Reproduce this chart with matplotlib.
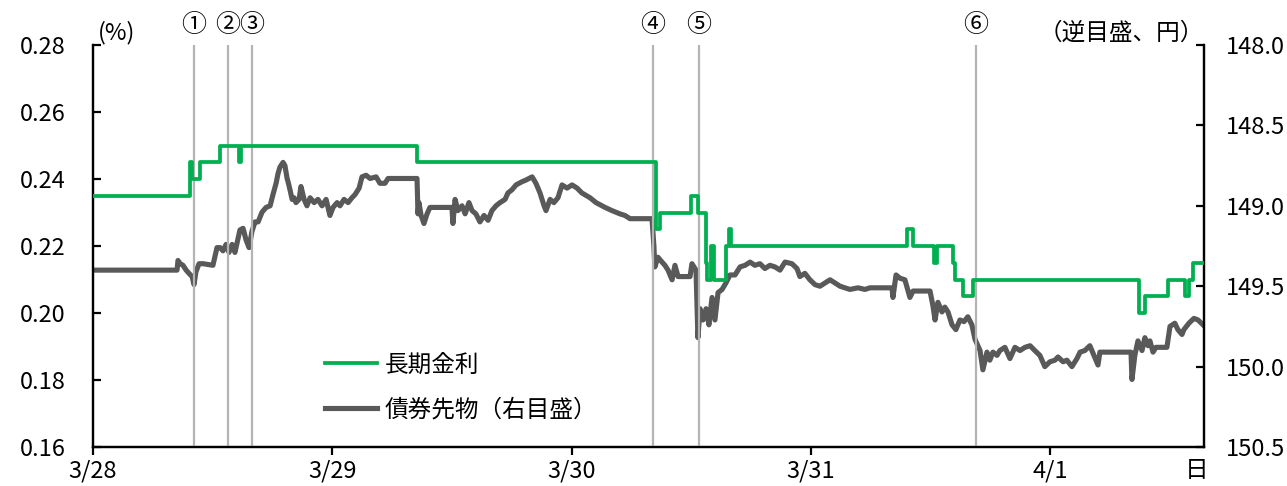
import matplotlib
matplotlib.use("Agg")
import matplotlib.pyplot as plt

plt.rcParams["font.family"] = ["Noto Sans CJK JP", "DejaVu Sans"]

# x = days since 3/28 open (trading-time index)
day_labels = ["3/28", "3/29", "3/30", "3/31", "4/1"]

# 長期金利 (%), step changes
jgb_t = [0, 0.405, 0.414, 0.447, 0.531, 0.610, 0.618, 1.354,
         2.353, 2.370, 2.499, 2.528, 2.562, 2.566, 2.583, 2.595,
         2.645, 2.658, 2.666, 3.402, 3.427, 3.514, 3.527, 3.594,
         3.602, 3.636, 3.677, 4.371, 4.396, 4.492, 4.563, 4.580,
         4.597, 4.643]
jgb_yield = [0.235, 0.245, 0.240, 0.245, 0.250, 0.245, 0.250, 0.245,
             0.225, 0.230, 0.235, 0.230, 0.215, 0.210, 0.220, 0.210,
             0.220, 0.225, 0.220, 0.225, 0.220, 0.215, 0.220, 0.215,
             0.210, 0.205, 0.210, 0.200, 0.205, 0.210, 0.205, 0.210,
             0.215, 0.215]

# 債券先物 (円)
fut_t = [0, 0.351, 0.355, 0.364, 0.376, 0.389, 0.401, 0.414, 0.422, 0.430,
         0.443, 0.460, 0.501, 0.518, 0.531, 0.543, 0.556, 0.568, 0.581, 0.593,
         0.614, 0.627, 0.639, 0.652, 0.664, 0.677, 0.690, 0.706, 0.723, 0.740,
         0.752, 0.765, 0.773, 0.781, 0.794, 0.802, 0.811, 0.815, 0.823, 0.832,
         0.840, 0.848, 0.861, 0.869, 0.882, 0.894, 0.907, 0.924, 0.940, 0.957,
         0.974, 0.990, 1.003, 1.020, 1.032, 1.049, 1.066, 1.082, 1.095, 1.112,
         1.124, 1.141, 1.158, 1.183, 1.199, 1.220, 1.233, 1.262, 1.354, 1.358,
         1.362, 1.371, 1.383, 1.396, 1.408, 1.433, 1.500, 1.504, 1.513, 1.525,
         1.542, 1.555, 1.571, 1.584, 1.600, 1.617, 1.634, 1.651, 1.667, 1.684,
         1.701, 1.722, 1.734, 1.751, 1.768, 1.793, 1.809, 1.835, 1.851, 1.868,
         1.885, 1.893, 1.910, 1.926, 1.943, 1.960, 1.981, 2.002, 2.023, 2.043,
         2.077, 2.102, 2.140, 2.169, 2.202, 2.223, 2.244, 2.336, 2.344, 2.348,
         2.361, 2.378, 2.390, 2.403, 2.420, 2.432, 2.445, 2.495, 2.503, 2.520,
         2.528, 2.537, 2.549, 2.562, 2.574, 2.587, 2.599, 2.612, 2.629, 2.645,
         2.662, 2.683, 2.704, 2.725, 2.746, 2.766, 2.787, 2.808, 2.829, 2.850,
         2.871, 2.892, 2.921, 2.942, 2.954, 2.975, 2.996, 3.017, 3.038, 3.059,
         3.080, 3.101, 3.122, 3.142, 3.163, 3.197, 3.226, 3.247, 3.339, 3.343,
         3.356, 3.372, 3.393, 3.414, 3.427, 3.498, 3.510, 3.519, 3.531, 3.548,
         3.560, 3.573, 3.590, 3.606, 3.623, 3.640, 3.656, 3.673, 3.686, 3.707,
         3.719, 3.736, 3.748, 3.761, 3.778, 3.790, 3.811, 3.832, 3.853, 3.874,
         3.895, 3.916, 3.936, 3.957, 3.978, 3.999, 4.020, 4.033, 4.054, 4.070,
         4.091, 4.112, 4.125, 4.145, 4.166, 4.200, 4.208, 4.338, 4.342, 4.354,
         4.367, 4.384, 4.396, 4.409, 4.417, 4.430, 4.442, 4.488, 4.501, 4.521,
         4.534, 4.551, 4.559, 4.580, 4.601, 4.618, 4.639]
fut_price = [149.40, 149.40, 149.34, 149.36, 149.37, 149.40, 149.42, 149.44, 149.49, 149.41,
             149.36, 149.36, 149.37, 149.26, 149.26, 149.28, 149.24, 149.29, 149.24, 149.29,
             149.15, 149.14, 149.21, 149.26, 149.16, 149.10, 149.10, 149.04, 149.01, 149.00,
             148.93, 148.86, 148.80, 148.76, 148.73, 148.75, 148.83, 148.85, 148.90, 148.96,
             148.95, 148.98, 148.96, 148.88, 148.96, 149.00, 148.95, 148.98, 148.96, 149.00,
             148.96, 149.06, 149.01, 148.98, 149.00, 148.96, 148.98, 148.95, 148.93, 148.89,
             148.82, 148.81, 148.83, 148.82, 148.86, 148.86, 148.83, 148.83, 148.83, 149.05,
             148.98, 149.06, 149.11, 149.05, 149.01, 149.01, 149.01, 149.11, 148.96, 149.03,
             149.00, 149.05, 148.98, 149.03, 149.05, 149.10, 149.06, 149.09, 149.03, 149.00,
             148.98, 148.96, 148.92, 148.90, 148.87, 148.85, 148.84, 148.82, 148.86, 148.92,
             149.00, 149.03, 148.96, 148.98, 148.95, 148.87, 148.89, 148.87, 148.89, 148.92,
             148.95, 148.98, 149.01, 149.03, 149.05, 149.06, 149.08, 149.08, 149.25, 149.38,
             149.32, 149.35, 149.37, 149.40, 149.46, 149.37, 149.44, 149.44, 149.36, 149.40,
             149.82, 149.64, 149.71, 149.64, 149.74, 149.57, 149.71, 149.54, 149.52, 149.48,
             149.43, 149.43, 149.38, 149.37, 149.35, 149.37, 149.36, 149.39, 149.37, 149.38,
             149.40, 149.35, 149.36, 149.39, 149.44, 149.42, 149.46, 149.49, 149.50, 149.48,
             149.46, 149.48, 149.50, 149.51, 149.52, 149.51, 149.52, 149.51, 149.51, 149.57,
             149.43, 149.45, 149.46, 149.57, 149.53, 149.53, 149.62, 149.71, 149.60, 149.66,
             149.63, 149.66, 149.74, 149.77, 149.71, 149.72, 149.69, 149.74, 149.83, 149.90,
             150.02, 149.91, 149.96, 149.91, 149.93, 149.90, 149.88, 149.95, 149.88, 149.90,
             149.88, 149.87, 149.90, 149.93, 150.00, 149.97, 149.96, 149.94, 149.97, 149.96,
             150.00, 149.95, 149.91, 149.90, 149.87, 149.99, 149.91, 149.91, 150.08, 149.93,
             149.84, 149.90, 149.82, 149.87, 149.84, 149.91, 149.88, 149.88, 149.75, 149.73,
             149.77, 149.80, 149.77, 149.73, 149.70, 149.71, 149.74]

event_t = [0.422, 0.564, 0.664, 2.340, 2.532, 3.690]
event_labels = ["①", "②", "③", "④", "⑤", "⑥"]

GREEN = "#00b050"
GRAY = "#595959"
FS = 17

fig = plt.figure(figsize=(12.87, 4.86), dpi=100)
ax = fig.add_axes([0.0723, 0.0802, 0.8632, 0.8272])
ax2 = ax.twinx()
ax.set_zorder(ax2.get_zorder() + 1)
ax.patch.set_visible(False)

for t, lab in zip(event_t, event_labels):
    ax.axvline(t, color="#b4b4b4", lw=1.6, zorder=1)
    ax.text(t, 1.05, lab, transform=ax.get_xaxis_transform(), ha="center",
            va="center", fontsize=18)

l2, = ax2.plot(fut_t, fut_price, color=GRAY, lw=3.7, solid_joinstyle="round")
l1, = ax.plot(jgb_t, jgb_yield, color=GREEN, lw=2.7, drawstyle="steps-post", zorder=3)

ax.set_xlim(0, 4.643)
ax.set_ylim(0.16, 0.28)
ax.set_yticks([0.16, 0.18, 0.20, 0.22, 0.24, 0.26, 0.28])
ax.set_yticklabels([f"{v:.2f}" for v in [0.16, 0.18, 0.20, 0.22, 0.24, 0.26, 0.28]])
ax2.set_ylim(150.5, 148.0)
ax2.set_yticks([148.0, 148.5, 149.0, 149.5, 150.0, 150.5])
ax2.set_yticklabels([f"{v:.1f}" for v in [148.0, 148.5, 149.0, 149.5, 150.0, 150.5]])
ax.set_xticks(range(len(day_labels)))
ax.set_xticklabels(day_labels)

for a in (ax, ax2):
    a.spines["top"].set_visible(False)
    for s in ("left", "right", "bottom"):
        a.spines[s].set_linewidth(1.6)
ax.tick_params(axis="y", direction="in", length=6, width=1.6, labelsize=FS, pad=20)
ax2.tick_params(axis="y", direction="in", length=6, width=1.6, labelsize=FS, pad=16)
ax.tick_params(axis="x", direction="out", length=6, width=1.6, labelsize=FS, pad=3)

ax.text(0.004, 1.03, "(%)", transform=ax.transAxes, ha="left", va="center", fontsize=FS)
ax.text(1.0, 1.03, "（逆目盛、円）", transform=ax.transAxes, ha="right", va="center", fontsize=FS)
ax.text(0.993, -0.058, "日", transform=ax.transAxes, ha="center", va="center", fontsize=FS)

ax.legend([l1, l2], ["長期金利", "債券先物（右目盛）"], loc="lower left",
          bbox_to_anchor=(0.19, 0.01), frameon=False, fontsize=FS,
          handlelength=2.2, handletextpad=0.3, labelspacing=0.95)

fig.savefig("out.png", dpi=100)
